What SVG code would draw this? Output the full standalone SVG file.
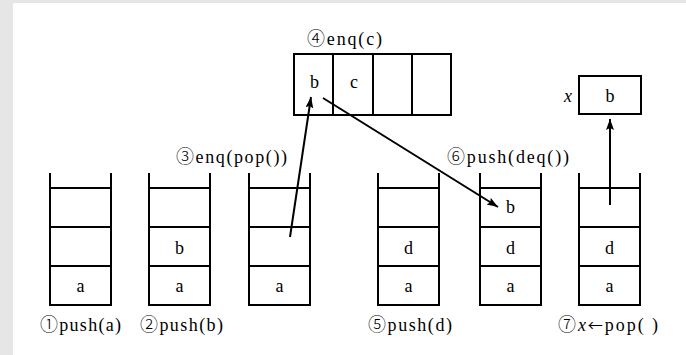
<svg xmlns="http://www.w3.org/2000/svg" width="686" height="355" viewBox="0 0 686 355">
  <style>
    .frame { fill: none; stroke: #000; stroke-width: 2; }
    .conn { fill: none; stroke: #000; stroke-width: 2; }
    .t { font-family: "Liberation Serif", "DejaVu Serif", serif; font-size: 18px; fill: #000; }
    .n { font-family: "DejaVu Serif", "Noto Sans CJK JP", serif; font-size: 18px; font-weight: 300; }
    .ar { font-family: "Noto Sans CJK JP", "DejaVu Sans", sans-serif; font-size: 15px; }
    .c { text-anchor: middle; }
    .it { font-style: italic; }
  </style>
  <defs>
    <marker id="arrow" markerUnits="userSpaceOnUse" markerWidth="12" markerHeight="10" refX="11" refY="4" orient="auto">
      <path d="M0,0 L11,4 L0,8 L2,4 Z" fill="#000"/>
    </marker>
  </defs>

  <!-- page background -->
  <rect x="0" y="0" width="686" height="355" fill="#e6e6e6"/>
  <rect x="13" y="3" width="673" height="352" fill="#fff"/>

  <!-- stack 1: push(a) -->
  <g id="stack1">
    <path class="frame" d="M50,173 V305 H111 V173 M50,188 H111 M50,227 H111 M50,266 H111"/>
    <text class="t c" x="80.5" y="292">a</text>
    <text class="t" x="40" y="331" textLength="81" lengthAdjust="spacing"><tspan class="n">①</tspan>push(a)</text>
  </g>

  <!-- stack 2: push(b) -->
  <g id="stack2">
    <path class="frame" d="M149,173 V305 H210 V173 M149,188 H210 M149,227 H210 M149,266 H210"/>
    <text class="t c" x="179.5" y="254">b</text>
    <text class="t c" x="179.5" y="292">a</text>
    <text class="t" x="140" y="331" textLength="83" lengthAdjust="spacing"><tspan class="n">②</tspan>push(b)</text>
  </g>

  <!-- stack 3: enq(pop()) -->
  <g id="stack3">
    <path class="frame" d="M249,173 V305 H310 V173 M249,188 H310 M249,227 H310 M249,266 H310"/>
    <text class="t c" x="279.5" y="292">a</text>
    <text class="t" x="176" y="163" textLength="111" lengthAdjust="spacing"><tspan class="n">③</tspan>enq(pop())</text>
  </g>

  <!-- queue: enq(c) -->
  <g id="queue">
    <path class="frame" d="M294,54 H451 V115 H294 Z M333,54 V115 M373,54 V115 M412,54 V115"/>
    <text class="t c" x="314.5" y="88">b</text>
    <text class="t c" x="354" y="88">c</text>
    <text class="t" x="307" y="45" textLength="75" lengthAdjust="spacing"><tspan class="n">④</tspan>enq(c)</text>
  </g>

  <!-- stack 4: push(d) -->
  <g id="stack4">
    <path class="frame" d="M378,173 V305 H439 V173 M378,188 H439 M378,227 H439 M378,266 H439"/>
    <text class="t c" x="408.5" y="254">d</text>
    <text class="t c" x="408.5" y="292">a</text>
    <text class="t" x="368" y="331" textLength="84" lengthAdjust="spacing"><tspan class="n">⑤</tspan>push(d)</text>
  </g>

  <!-- stack 5: push(deq()) -->
  <g id="stack5">
    <path class="frame" d="M480,173 V305 H541 V173 M480,188 H541 M480,227 H541 M480,266 H541"/>
    <text class="t c" x="510.5" y="213">b</text>
    <text class="t c" x="510.5" y="254">d</text>
    <text class="t c" x="510.5" y="292">a</text>
    <text class="t" x="447" y="163" textLength="122" lengthAdjust="spacing"><tspan class="n">⑥</tspan>push(deq())</text>
  </g>

  <!-- stack 6: x ← pop() -->
  <g id="stack6">
    <path class="frame" d="M579,173 V305 H640 V173 M579,188 H640 M579,227 H640 M579,266 H640"/>
    <text class="t c" x="609.5" y="254">d</text>
    <text class="t c" x="609.5" y="292">a</text>
    <text class="t" x="558" y="331" textLength="100" lengthAdjust="spacing"><tspan class="n">⑦</tspan><tspan class="it">x</tspan><tspan class="ar">←</tspan>pop( )</text>
  </g>

  <!-- variable x -->
  <g id="varx">
    <rect class="frame" x="579" y="76" width="62" height="38"/>
    <text class="t c" x="610" y="102">b</text>
    <text class="t it" x="564" y="102">x</text>
  </g>

  <!-- connectors -->
  <g id="connectors">
    <line class="conn" x1="290" y1="237" x2="311" y2="97" marker-end="url(#arrow)"/>
    <line class="conn" x1="323" y1="98" x2="498" y2="207" marker-end="url(#arrow)"/>
    <line class="conn" x1="610" y1="205" x2="610" y2="119" marker-end="url(#arrow)"/>
  </g>
</svg>
